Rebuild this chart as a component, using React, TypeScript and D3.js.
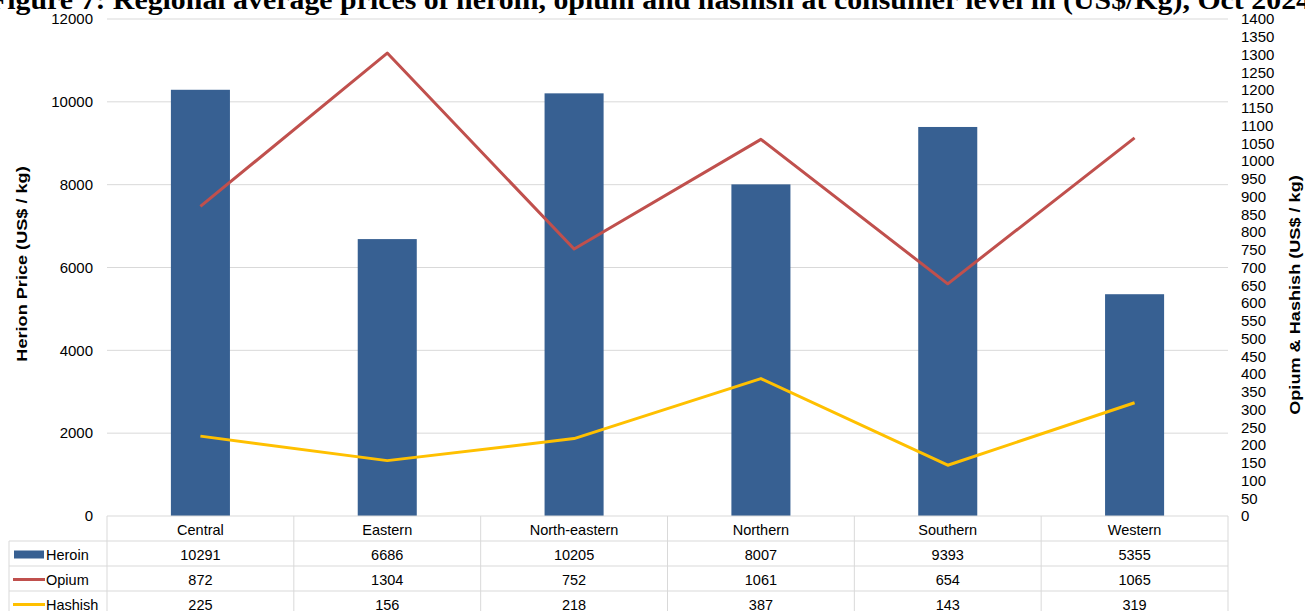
import { useEffect, useRef } from "react";
import * as d3 from "d3";

const regions = ["Central", "Eastern", "North-eastern", "Northern", "Southern", "Western"];
const heroin = [10291, 6686, 10205, 8007, 9393, 5355];
const opium = [872, 1304, 752, 1061, 654, 1065];
const hashish = [225, 156, 218, 387, 143, 319];
const leftTicks = [0, 2000, 4000, 6000, 8000, 10000, 12000];
const rightTicks = d3.range(0, 1401, 50);

const W = 1305;
const H = 611;

export default function App() {
  const svgRef = useRef<SVGSVGElement>(null);

  useEffect(() => {
    if (!svgRef.current) return;
    const svg = d3.select(svgRef.current);
    svg.selectAll("*").remove();

    const margin = { top: 19, left: 107, right: 1228, bottom: 516 };
    const rowH = 25;
    const tableLeft = 9;
    const font = "Arial, 'Liberation Sans', sans-serif";

    const x = d3.scaleBand().domain(regions).range([margin.left, margin.right]).padding(0);
    const yL = d3.scaleLinear().domain([0, 12000]).range([margin.bottom, margin.top]);
    const yR = d3.scaleLinear().domain([0, 1400]).range([margin.bottom, margin.top]);

    // title, clipped at the top like the source
    svg.append("text")
      .attr("transform", "translate(650,9) scale(1,1.15)")
      .attr("text-anchor", "middle")
      .attr("font-family", "'Liberation Serif', 'Times New Roman', serif")
      .attr("font-weight", "bold")
      .attr("font-size", "24px")
      .attr("textLength", 1322)
      .attr("lengthAdjust", "spacingAndGlyphs")
      .text("Figure 7: Regional average prices of heroin, opium and hashish at consumer level in (US$/Kg), Oct 2024");

    // grid
    svg.append("g")
      .selectAll("line")
      .data(leftTicks.filter(d => d > 0))
      .join("line")
      .attr("x1", margin.left)
      .attr("x2", margin.right)
      .attr("y1", d => yL(d))
      .attr("y2", d => yL(d))
      .attr("stroke", "#d9d9d9")
      .attr("stroke-width", 1);

    // left ticks
    svg.append("g")
      .selectAll("text")
      .data(leftTicks)
      .join("text")
      .attr("x", 93)
      .attr("y", d => yL(d))
      .attr("dy", "0.35em")
      .attr("text-anchor", "end")
      .attr("font-family", font)
      .attr("font-size", "15px")
      .attr("fill", "#000")
      .text(d => d);

    // right ticks
    svg.append("g")
      .selectAll("text")
      .data(rightTicks)
      .join("text")
      .attr("x", 1241)
      .attr("y", d => yR(d))
      .attr("dy", "0.35em")
      .attr("font-family", font)
      .attr("font-size", "15px")
      .attr("fill", "#000")
      .text(d => d);

    // axis titles (stretched along their length like the source)
    svg.append("text")
      .attr("transform", `translate(27,264) rotate(-90) scale(1.25,1)`)
      .attr("text-anchor", "middle")
      .attr("font-family", font)
      .attr("font-weight", "bold")
      .attr("font-size", "14.5px")
      .text("Herion Price (US$ / kg)");

    svg.append("text")
      .attr("transform", `translate(1300,295) rotate(-90) scale(1.25,1)`)
      .attr("text-anchor", "middle")
      .attr("font-family", font)
      .attr("font-weight", "bold")
      .attr("font-size", "14.5px")
      .text("Opium & Hashish (US$ / kg)");

    // bars
    const barW = x.bandwidth() * 0.316;
    svg.append("g")
      .selectAll("rect")
      .data(heroin)
      .join("rect")
      .attr("x", (_, i) => x(regions[i])! + (x.bandwidth() - barW) / 2)
      .attr("width", barW)
      .attr("y", d => yL(d))
      .attr("height", d => yL(0) - yL(d))
      .attr("fill", "#376092");

    // lines
    const line = d3.line<number>()
      .x((_, i) => x(regions[i])! + x.bandwidth() / 2)
      .y(d => yR(d));

    svg.append("path")
      .datum(opium)
      .attr("d", line)
      .attr("fill", "none")
      .attr("stroke", "#C0504D")
      .attr("stroke-width", 3)
      .attr("stroke-linejoin", "round");

    svg.append("path")
      .datum(hashish)
      .attr("d", line)
      .attr("fill", "none")
      .attr("stroke", "#FFC000")
      .attr("stroke-width", 3)
      .attr("stroke-linejoin", "round");

    // data table
    const table = svg.append("g");
    const gridColor = "#d9d9d9";
    const rows = [
      { name: "Heroin", values: heroin, color: "#376092", kind: "bar" },
      { name: "Opium", values: opium, color: "#C0504D", kind: "line" },
      { name: "Hashish", values: hashish, color: "#FFC000", kind: "line" },
    ];
    const top = margin.bottom;
    const bottomY = top + rowH * (rows.length + 1);

    table.append("line")
      .attr("x1", margin.left).attr("x2", margin.right)
      .attr("y1", top).attr("y2", top)
      .attr("stroke", gridColor);
    d3.range(1, rows.length + 2).forEach(r => {
      table.append("line")
        .attr("x1", tableLeft).attr("x2", margin.right)
        .attr("y1", top + r * rowH).attr("y2", top + r * rowH)
        .attr("stroke", gridColor);
    });
    regions.forEach(r => {
      table.append("line")
        .attr("x1", x(r)!).attr("x2", x(r)!)
        .attr("y1", top).attr("y2", bottomY)
        .attr("stroke", gridColor);
    });
    table.append("line")
      .attr("x1", margin.right).attr("x2", margin.right)
      .attr("y1", top).attr("y2", bottomY)
      .attr("stroke", gridColor);
    table.append("line")
      .attr("x1", tableLeft).attr("x2", tableLeft)
      .attr("y1", top + rowH).attr("y2", bottomY)
      .attr("stroke", gridColor);

    // category labels
    table.selectAll("text.cat")
      .data(regions)
      .join("text")
      .attr("class", "cat")
      .attr("x", d => x(d)! + x.bandwidth() / 2)
      .attr("y", top + rowH / 2 + 1)
      .attr("dy", "0.35em")
      .attr("text-anchor", "middle")
      .attr("font-family", font)
      .attr("font-size", "14.5px")
      .text(d => d);

    rows.forEach((row, ri) => {
      const cy = top + rowH * (ri + 1) + rowH / 2 + 1;
      if (row.kind === "bar") {
        table.append("rect")
          .attr("x", 14).attr("y", cy - 4)
          .attr("width", 30).attr("height", 8)
          .attr("fill", row.color);
      } else {
        table.append("line")
          .attr("x1", 13).attr("x2", 45)
          .attr("y1", cy).attr("y2", cy)
          .attr("stroke", row.color)
          .attr("stroke-width", 3);
      }
      table.append("text")
        .attr("x", 46)
        .attr("y", cy)
        .attr("dy", "0.35em")
        .attr("font-family", font)
        .attr("font-size", "14.5px")
        .text(row.name);
      table.selectAll(`text.v${ri}`)
        .data(row.values)
        .join("text")
        .attr("class", `v${ri}`)
        .attr("x", (_, i) => x(regions[i])! + x.bandwidth() / 2)
        .attr("y", cy)
        .attr("dy", "0.35em")
        .attr("text-anchor", "middle")
        .attr("font-family", font)
        .attr("font-size", "14.5px")
        .text(d => d);
    });
  }, []);

  return (
    <svg
      ref={svgRef}
      width={W}
      height={H}
      style={{ position: "absolute", left: 0, top: 0, background: "#fff" }}
    />
  );
}
